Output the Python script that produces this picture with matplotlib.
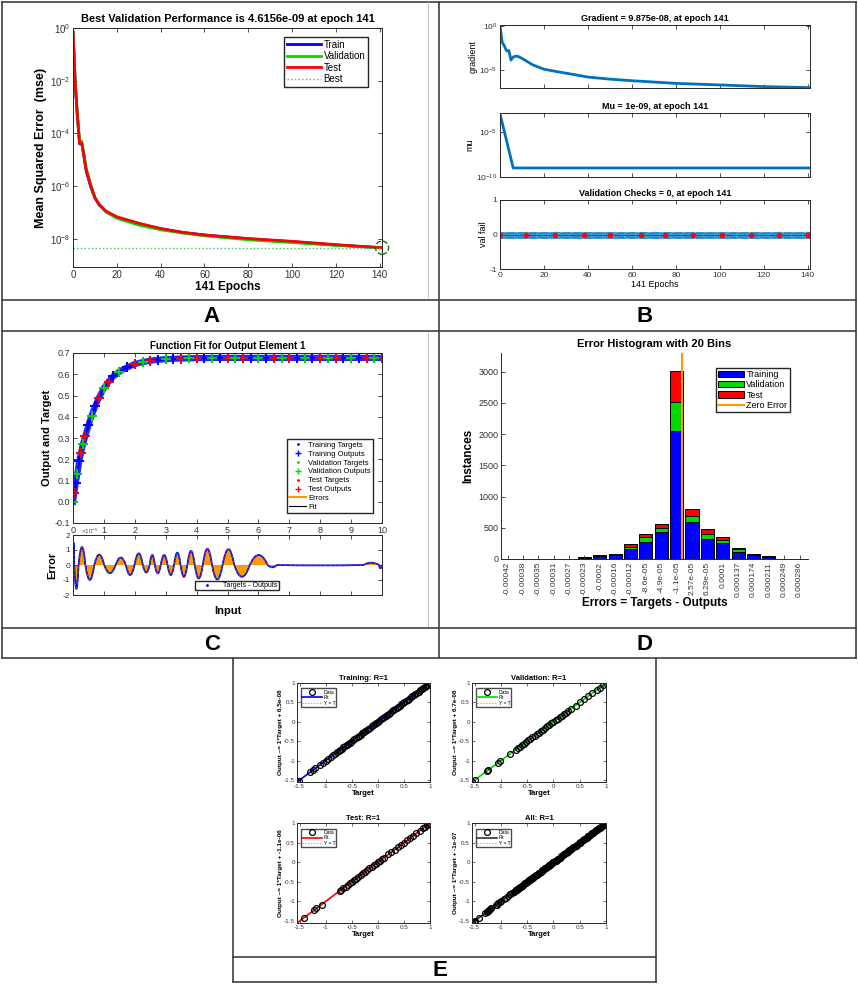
import numpy as np
import matplotlib
matplotlib.use("Agg")
import matplotlib.pyplot as plt
from matplotlib.lines import Line2D
from matplotlib.patches import Patch, PathPatch
from matplotlib.path import Path

plt.rcParams['font.family'] = ['Liberation Sans', 'DejaVu Sans']
plt.rcParams['mathtext.fontset'] = 'custom'
plt.rcParams['mathtext.rm'] = 'Liberation Sans'
plt.rcParams['mathtext.it'] = 'Liberation Sans:italic'
plt.rcParams['mathtext.bf'] = 'Liberation Sans:bold'
plt.rcParams['axes.unicode_minus'] = False
plt.rcParams['axes.edgecolor'] = '0.15'
plt.rcParams['xtick.color'] = '0.2'
plt.rcParams['ytick.color'] = '0.2'
plt.rcParams['axes.linewidth'] = 0.7

# ---------------- data ----------------
# A: performance (mse) per epoch
perf_epochs = [0, 1, 2, 3, 4, 5, 6, 8, 10, 12, 15, 20, 30, 40, 50, 60, 80, 100, 120, 141]
perf_train = [0.7, 8e-3, 4.5e-4, 4e-5, 4.2e-5, 1.3e-5, 3.8e-6, 1e-6, 3.5e-7, 1.9e-7, 1.1e-7,
              6.6e-8, 3.7e-8, 2.4e-8, 1.75e-8, 1.4e-8, 1e-8, 7.8e-9, 5.8e-9, 4.5e-9]
perf_val = [0.75, 9e-3, 5e-4, 5e-5, 5e-5, 1.6e-5, 5e-6, 1.2e-6, 3.8e-7, 2e-7, 1.05e-7,
            6e-8, 3.3e-8, 2.2e-8, 1.65e-8, 1.3e-8, 9.2e-9, 7.2e-9, 5.6e-9, 4.6156e-9]
perf_test = [0.7, 8.5e-3, 4.8e-4, 4.2e-5, 4.3e-5, 1.4e-5, 4.2e-6, 1.1e-6, 3.6e-7, 2e-7, 1.12e-7,
             6.8e-8, 3.9e-8, 2.45e-8, 1.75e-8, 1.38e-8, 1.02e-8, 8e-9, 6e-9, 4.6e-9]
best_epoch = 141
best_perf = 4.6156e-09

# B: training state
grad_epochs = [0, 1, 2, 3, 4, 5, 6, 7, 8, 10, 12, 15, 20, 25, 30, 40, 50, 60, 80, 100, 120, 141]
grad_vals = [1.0, 1.4e-2, 5e-3, 1.4e-3, 1.6e-3, 1.3e-4, 2.8e-4, 3.5e-4, 3.5e-4, 2e-4, 1e-4,
             3.6e-5, 1.2e-5, 7e-6, 4.3e-6, 1.55e-6, 9e-7, 6e-7, 3e-7, 2e-7, 1.3e-7, 9.875e-08]
mu_epochs = [0, 1, 2, 3, 4, 5, 6, 141]
mu_vals = [1e-3, 1e-4, 1e-5, 1e-6, 1e-7, 1e-8, 1e-9, 1e-9]
val_epochs = list(range(142))
val_fail = [0] * 142
val_mark_epochs = [0, 12, 25, 38, 50, 64, 75, 88, 101, 114, 127, 140]

# C: function fit (input in units of 1e-5)
fit_x = [0, 0.04, 0.09, 0.14, 0.2, 0.26, 0.32, 0.4, 0.5, 0.6, 0.72, 0.84, 1.0, 1.15, 1.3,
         1.5, 1.75, 2.0, 2.25, 2.5, 2.75, 3.0, 3.25, 3.5, 3.75, 4.0, 4.25, 4.5, 4.75, 5.0,
         5.25, 5.5, 5.75, 6.0, 6.25, 6.5, 6.75, 7.0, 7.25, 7.5, 7.75, 8.0, 8.25, 8.5, 8.75,
         9.0, 9.25, 9.5, 9.75, 10.0]
fit_y = [0.0, 0.04, 0.09, 0.13, 0.19, 0.23, 0.27, 0.31, 0.36, 0.405, 0.45, 0.49, 0.535,
         0.565, 0.59, 0.612, 0.632, 0.648, 0.657, 0.664, 0.668, 0.671, 0.673, 0.674, 0.675,
         0.676, 0.676, 0.677, 0.677, 0.677, 0.677, 0.677, 0.677, 0.677, 0.677, 0.677, 0.677,
         0.677, 0.677, 0.677, 0.677, 0.677, 0.677, 0.677, 0.677, 0.677, 0.677, 0.677, 0.677,
         0.677]
# error lobes: zero crossings and the peak between each pair
err_cross = [0.0, 0.04, 0.18, 0.40, 0.69, 1.01, 1.38, 1.71, 1.99, 2.26, 2.48, 2.65, 2.84,
             3.06, 3.27, 3.48, 3.70, 3.94, 4.20, 4.50, 4.84, 5.22, 5.72, 6.30, 6.60, 9.40,
             9.90, 10.0]
err_peak = [1.9, -1.6, 1.2, -1.0, 0.7, -0.55, 0.5, -0.67, 0.78, -0.5, 0.67, -0.56, 0.67,
            -0.67, 0.83, -0.79, 0.94, -0.9, 1.08, -0.97, 1.06, -0.79, 0.67, -0.16, -0.03,
            0.16, -0.22]

# D: error histogram
bin_labels = ['-0.00042', '-0.00038', '-0.00035', '-0.00031', '-0.00027', '-0.00023',
              '-0.0002', '-0.00016', '-0.00012', '-8.6e-05', '-4.9e-05', '-1.1e-05',
              '2.57e-05', '6.29e-05', '0.0001', '0.000137', '0.000174', '0.000211',
              '0.000249', '0.000286']
hist_train = [0, 0, 0, 0, 0, 15, 45, 60, 160, 277, 426, 2050, 586, 325, 256, 117, 64, 36, 0, 0]
hist_val = [0, 0, 0, 0, 0, 5, 10, 12, 40, 70, 70, 470, 96, 75, 43, 48, 12, 4, 0, 0]
hist_test = [0, 0, 0, 0, 0, 5, 9, 13, 40, 58, 64, 485, 118, 85, 53, 11, 9, 3, 0, 0]
zero_error_pos = 12.37

# E: regression (outputs equal targets, R = 1)
train_t = [-1.55, -1.52, -1.3, -1.25, -1.2, -1.1, -1.05, -1.0, -0.95, -0.9, -0.86, -0.82,
           -0.78, -0.75, -0.72, -0.69, -0.66, -0.63, -0.6, -0.57, -0.54, -0.51, -0.48, -0.45,
           -0.42, -0.39, -0.36, -0.33, -0.3, -0.27, -0.24, -0.21, -0.18, -0.15, -0.12, -0.09,
           -0.06, -0.03, 0.0, 0.03, 0.06, 0.09, 0.12, 0.15, 0.18, 0.21, 0.24, 0.27, 0.3, 0.33,
           0.36, 0.39, 0.42, 0.45, 0.48, 0.51, 0.54, 0.57, 0.6, 0.63, 0.66, 0.69, 0.72, 0.75,
           0.78, 0.81, 0.84, 0.87, 0.9, 0.93, 0.96, 0.99]
val_t = [-1.55, -1.5, -1.27, -1.25, -1.05, -1.02, -0.82, -0.72, -0.68, -0.64, -0.6, -0.56,
         -0.52, -0.48, -0.44, -0.4, -0.36, -0.32, -0.28, -0.24, -0.2, -0.16, -0.12, -0.08,
         -0.04, 0.0, 0.04, 0.08, 0.12, 0.16, 0.2, 0.24, 0.28, 0.34, 0.42, 0.5, 0.58, 0.66,
         0.74, 0.82, 0.88, 0.94, 1.0]
test_t = [-1.42, -1.22, -1.18, -1.08, -0.73, -0.7, -0.66, -0.62, -0.58, -0.54, -0.5, -0.46,
          -0.42, -0.38, -0.33, -0.28, -0.24, -0.2, -0.16, -0.12, -0.08, -0.04, 0.0, 0.04,
          0.08, 0.12, 0.2, 0.26, 0.32, 0.38, 0.44, 0.5, 0.56, 0.62, 0.68, 0.74, 0.8, 0.86,
          0.9, 0.94, 0.97, 1.0]
all_t = train_t + val_t + test_t
reg_sets = [
    ('Training: R=1', train_t, 6.5e-08, 'Output ~= 1*Target + 6.5e-08', (0, 0, 1)),
    ('Validation: R=1', val_t, 6.7e-08, 'Output ~= 1*Target + 6.7e-08', (0, 0.85, 0)),
    ('Test: R=1', test_t, -1.1e-06, 'Output ~= 1*Target + -1.1e-06', (1, 0, 0)),
    ('All: R=1', all_t, -1e-07, 'Output ~= 1*Target + -1e-07', (0.2, 0.2, 0.2)),
]

# ---------------- figure ----------------
W, H = 858, 985
fig = plt.figure(figsize=(W / 100, H / 100), dpi=100)


def add_ax(l, t, r, b):
    return fig.add_axes([l / W, 1 - b / H, (r - l) / W, (b - t) / H])


def fig_line(x0, y0, x1, y1, color='0.25', lw=1.2):
    fig.add_artist(Line2D([x0 / W, x1 / W], [1 - y0 / H, 1 - y1 / H],
                          transform=fig.transFigure, color=color, lw=lw))


def matlab_ticks(ax, size=6.5):
    ax.tick_params(direction='in', top=True, right=True, length=3, width=0.6,
                   labelsize=size, pad=2)
    ax.tick_params(which='minor', direction='in', top=True, right=True, length=1.5, width=0.4)


blue = (0, 0, 1)
green = (0, 0.85, 0)
red = (1, 0, 0)
mblue = (0, 0.447, 0.741)
orange = (1, 0.6, 0)

# ---- A ----
ax = add_ax(73, 28, 382, 267)
ax.plot(perf_epochs, perf_train, color=blue, lw=2, label='Train')
ax.plot(perf_epochs, perf_val, color=green, lw=2, label='Validation')
ax.plot(perf_epochs, perf_test, color=red, lw=2, label='Test')
ax.plot([best_epoch, best_epoch], [8.5e-10, 1.0], ':', color=(0.2, 0.8, 0.4), lw=1, label='Best')
ax.plot([0, best_epoch], [best_perf, best_perf], ':', color=(0.2, 0.8, 0.4), lw=1)
ax.scatter([best_epoch], [best_perf], s=90, facecolors='none', edgecolors=(0, 0.5, 0),
           linestyles='--', linewidths=1, clip_on=False, zorder=5)
ax.set_yscale('log')
ax.set_xlim(0, 141)
ax.set_ylim(8.5e-10, 1.0)
ax.set_yticks([1e0, 1e-2, 1e-4, 1e-6, 1e-8])
ax.set_xticks(range(0, 141, 20))
matlab_ticks(ax, 7)
ax.set_title('Best Validation Performance is 4.6156e-09 at epoch 141', fontsize=8,
             fontweight='bold', pad=4)
ax.set_xlabel('141 Epochs', fontsize=8.5, fontweight='bold', labelpad=1)
ax.set_ylabel('Mean Squared Error  (mse)', fontsize=9, fontweight='bold', labelpad=2)
ax.legend(loc='upper right', bbox_to_anchor=(0.971, 0.983), fontsize=7, fancybox=False,
          edgecolor='0.15', framealpha=1, handlelength=3.5, borderpad=0.3,
          labelspacing=0.15, handletextpad=0.3)

# ---- B ----
axg = add_ax(500, 25, 810, 88)
axg.plot(grad_epochs, grad_vals, color=mblue, lw=2)
axg.set_yscale('log')
axg.set_xlim(0, 141)
axg.set_ylim(9e-8, 1.2)
axg.set_yticks([1e0, 1e-5])
axg.set_xticks(range(0, 141, 20))
axg.set_xticklabels([])
matlab_ticks(axg, 6)
axg.minorticks_off()
axg.set_title('Gradient = 9.875e-08, at epoch 141', fontsize=6.5, fontweight='bold', pad=3)
axg.set_ylabel('gradient', fontsize=6.5, labelpad=1)

axm = add_ax(500, 113, 810, 177)
axm.plot(mu_epochs, mu_vals, color=mblue, lw=2)
axm.set_yscale('log')
axm.set_xlim(0, 141)
axm.set_ylim(1e-10, 1.2e-3)
axm.set_yticks([1e-5, 1e-10])
axm.set_xticks(range(0, 141, 20))
axm.set_xticklabels([])
matlab_ticks(axm, 6)
axm.minorticks_off()
axm.set_title('Mu = 1e-09, at epoch 141', fontsize=6.5, fontweight='bold', pad=3)
axm.set_ylabel('mu', fontsize=6.5, labelpad=1)

axv = add_ax(500, 200, 810, 269)
axv.plot(val_epochs, val_fail, color=mblue, lw=1.2, marker='o', ms=4,
         mfc=(0.3, 0.75, 0.93), mec=mblue, mew=0.6)
axv.plot(val_epochs, val_fail, color=(0.8, 0.1, 0.2), lw=0.8)
axv.plot(val_mark_epochs, [val_fail[e] for e in val_mark_epochs], 'D', color=red, ms=2.5)
axv.set_xlim(0, 141)
axv.set_ylim(-1, 1)
axv.set_yticks([-1, 0, 1])
axv.set_xticks(range(0, 141, 20))
matlab_ticks(axv, 6)
axv.set_title('Validation Checks = 0, at epoch 141', fontsize=6.5, fontweight='bold', pad=3)
axv.set_ylabel('val fail', fontsize=6.5, labelpad=1)
axv.set_xlabel('141 Epochs', fontsize=6.5, labelpad=1)

# ---- C ----
axc = add_ax(73, 353, 382, 523)
axc.plot(fit_x, fit_y, color='k', lw=1)
axc.plot(fit_x, fit_y, color=blue, lw=4.5, alpha=0.85)
axc.plot(fit_x, fit_y, '+', color=blue, ms=7, mew=1.4)
axc.plot(fit_x[1::2], fit_y[1::2], '+', color=red, ms=7, mew=1.4)
axc.plot(fit_x[::3], fit_y[::3], '+', color=green, ms=7, mew=1.4)
axc.set_xlim(0, 10)
axc.set_ylim(-0.1, 0.7)
axc.set_yticks(np.round(np.arange(-0.1, 0.71, 0.1), 1))
axc.set_xticks(range(0, 11))
matlab_ticks(axc, 6.5)
axc.set_title('Function Fit for Output Element 1', fontsize=7, fontweight='bold', pad=3)
axc.set_ylabel('Output and Target', fontsize=8, fontweight='bold', labelpad=2)
axc.text(0.25, -0.118, r'$\times10^{-5}$', fontsize=4.5, color='0.3', va='top', ha='left')
c_handles = [
    Line2D([], [], ls='none', marker='.', color=blue, ms=2),
    Line2D([], [], ls='none', marker='+', color=blue, ms=5),
    Line2D([], [], ls='none', marker='.', color=green, ms=2),
    Line2D([], [], ls='none', marker='+', color=green, ms=5),
    Line2D([], [], ls='none', marker='.', color=red, ms=2),
    Line2D([], [], ls='none', marker='+', color=red, ms=5),
    Line2D([], [], color=orange, lw=1.5),
    Line2D([], [], color='k', lw=0.8),
]
c_labels = ['Training Targets', 'Training Outputs', 'Validation Targets', 'Validation Outputs',
            'Test Targets', 'Test Outputs', 'Errors', 'Fit']
axc.legend(c_handles, c_labels, loc='lower right', bbox_to_anchor=(0.984, 0.035), fontsize=5.5,
           fancybox=False, edgecolor='0.15', framealpha=1, borderpad=0.3,
           labelspacing=0.2, handletextpad=0.3, handlelength=2.2)

axe = add_ax(73, 535, 382, 595)
verts = [(err_cross[0], 0)]
codes = [Path.MOVETO]
for i, pk in enumerate(err_peak):
    x0, x1 = err_cross[i], err_cross[i + 1]
    verts += [((x0 + x1) / 2, 2 * pk), (x1, 0)]
    codes += [Path.CURVE3, Path.CURVE3]
err_path = Path(verts, codes)
axe.add_patch(PathPatch(err_path, facecolor=orange, edgecolor='none'))
axe.add_patch(PathPatch(err_path, facecolor='none', edgecolor=blue, lw=1.3))
axe.add_patch(PathPatch(err_path, facecolor='none', edgecolor=red, lw=0.6, ls=(0, (2, 4))))
axe.add_patch(PathPatch(err_path, facecolor='none', edgecolor=green, lw=0.6, ls=(3, (2, 4))))
axe.set_xlim(0, 10)
axe.set_ylim(-2, 2)
axe.set_yticks([-2, -1, 0, 1, 2])
axe.set_xticks(range(0, 11))
axe.set_xticklabels([])
matlab_ticks(axe, 6)
axe.set_ylabel('Error', fontsize=8, fontweight='bold', labelpad=4)
axe.set_xlabel('Input', fontsize=8, fontweight='bold', labelpad=6)
axe.legend([Line2D([], [], ls='none', marker='.', color=blue, ms=2)], ['Targets - Outputs'],
           loc='lower left', bbox_to_anchor=(0.385, 0.02), fontsize=5, fancybox=False,
           edgecolor='0.15', framealpha=1, borderpad=0.2, handlelength=3)

# ---- D ----
axd = add_ax(501, 353, 808, 559)
pos = np.arange(1, len(bin_labels) + 1)
hb = np.array(hist_train)
hv = np.array(hist_val)
ht = np.array(hist_test)
b1 = axd.bar(pos, hb, width=0.85, color=blue, edgecolor='k', lw=0.7)
b2 = axd.bar(pos, hv, width=0.85, bottom=hb, color=green, edgecolor='k', lw=0.7)
b3 = axd.bar(pos, ht, width=0.85, bottom=hb + hv, color=red, edgecolor='k', lw=0.7)
zl, = axd.plot([zero_error_pos, zero_error_pos], [0, 3300], color=orange, lw=1.5)
axd.set_xlim(0.57, 20.55)
axd.set_ylim(0, 3300)
axd.set_xticks(pos)
axd.set_xticklabels(bin_labels, rotation=90)
axd.set_yticks(range(0, 3001, 500))
axd.tick_params(direction='in', length=3, width=0.6, labelsize=6.5, pad=2)
axd.tick_params(axis='x', labelsize=6)
axd.spines['top'].set_visible(False)
axd.spines['right'].set_visible(False)
axd.set_title('Error Histogram with 20 Bins', fontsize=8, fontweight='bold', pad=4)
axd.set_ylabel('Instances', fontsize=8.5, fontweight='bold', labelpad=3)
axd.set_xlabel('Errors = Targets - Outputs', fontsize=8.5, fontweight='bold', labelpad=0)
axd.legend([b1, b2, b3, zl], ['Training', 'Validation', 'Test', 'Zero Error'],
           loc='upper right', bbox_to_anchor=(0.955, 0.95), fontsize=6.5, fancybox=False,
           edgecolor='0.15', framealpha=1, borderpad=0.25, labelspacing=0.15,
           handletextpad=0.3, handlelength=2.8)

# ---- E ----
e_boxes = [(297, 683, 430, 782), (472, 683, 606, 782), (297, 823, 430, 923), (472, 823, 606, 923)]
lims = [-1.55, 1.0]
for (title, tgt, offset, ylab, col), box in zip(reg_sets, e_boxes):
    axr = add_ax(*box)
    out = [t * 1 + offset for t in tgt]
    axr.plot(lims, lims, ':', color='0.6', lw=0.8, label='Y = T')
    axr.plot(lims, [lims[0] + offset, lims[1] + offset], color=col, lw=1.2, label='Fit')
    axr.plot(tgt, out, 'o', ls='none', mfc='none', mec='k', ms=4.2, mew=0.9, label='Data')
    axr.set_xlim(*lims)
    axr.set_ylim(*lims)
    axr.set_xticks([-1.5, -1, -0.5, 0, 0.5, 1])
    axr.set_yticks([-1.5, -1, -0.5, 0, 0.5, 1])
    axr.set_xticklabels(['-1.5', '-1', '-0.5', '0', '0.5', '1'])
    axr.set_yticklabels(['-1.5', '-1', '-0.5', '0', '0.5', '1'])
    axr.tick_params(direction='in', top=True, right=True, length=2, width=0.5,
                    labelsize=4.5, pad=1.5)
    axr.set_title(title, fontsize=5.5, fontweight='bold', pad=2)
    axr.set_xlabel('Target', fontsize=5.5, fontweight='bold', labelpad=1)
    axr.set_ylabel(ylab, fontsize=4.6, fontweight='bold', labelpad=1)
    hs, ls = axr.get_legend_handles_labels()
    axr.legend(hs[::-1], ls[::-1], loc='upper left', bbox_to_anchor=(0.01, 0.97), fontsize=3.6,
               fancybox=False, edgecolor='0.3', framealpha=1, borderpad=0.25,
               labelspacing=0.1, handlelength=4, handletextpad=0.3, markerfirst=True)

# ---------------- table grid ----------------
fig_line(2, 2, 856, 2)
fig_line(2, 2, 2, 658)
fig_line(856, 2, 856, 658)
fig_line(439, 2, 439, 658)
for yy in (300, 331, 628, 658):
    fig_line(2, yy, 856, yy)
fig_line(233, 658, 233, 982)
fig_line(656, 658, 656, 982)
fig_line(233, 957, 656, 957)
fig_line(233, 982, 656, 982)
fig_line(428, 2, 428, 297, color='0.7', lw=0.6)
fig_line(428, 333, 428, 626, color='0.7', lw=0.6)

for lab, x, y in [('A', 212, 317), ('B', 645, 317), ('C', 212, 644), ('D', 645, 644), ('E', 440, 970)]:
    fig.text(x / W, 1 - y / H, lab, fontsize=16, fontweight='bold', ha='center', va='center')

fig.savefig('out.png', dpi=100)
